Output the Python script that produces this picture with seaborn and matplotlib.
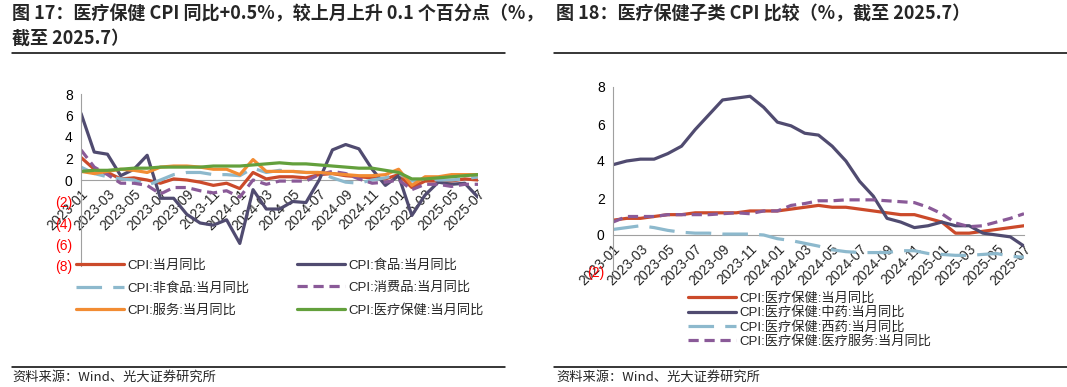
import numpy as np
import pandas as pd
import matplotlib
matplotlib.use("Agg")
import matplotlib.pyplot as plt
from matplotlib.lines import Line2D
import seaborn as sns

months = list(pd.period_range("2023-01", "2025-07", freq="M").strftime("%Y-%m"))

# 图17 数据
cpi = [2.1, 1.0, 0.7, 0.1, 0.2, 0.0, -0.3, 0.1, 0.0, -0.2, -0.5, -0.3,
       -0.8, 0.7, 0.1, 0.3, 0.3, 0.2, 0.5, 0.6, 0.4, 0.3, 0.2, 0.1,
       0.5, -0.7, -0.1, -0.1, -0.1, 0.1, 0.0]
cpi_food = [6.2, 2.6, 2.4, 0.4, 1.0, 2.3, -1.7, -1.7, -3.2, -4.0, -4.2, -3.7,
            -5.9, -0.9, -2.7, -2.7, -2.0, -2.1, 0.0, 2.8, 3.3, 2.9, 1.0, -0.5,
            0.4, -3.3, -1.4, -0.2, -0.4, -0.3, -1.6]
cpi_nonfood = [1.2, 0.6, 0.3, 0.1, 0.0, -0.5, 0.0, 0.5, 0.7, 0.7, 0.5, 0.5,
               0.4, 1.1, 0.7, 0.9, 0.8, 0.7, 0.7, 0.2, -0.2, -0.3, 0.0, 0.2,
               0.6, -0.1, 0.1, 0.0, 0.0, 0.1, 0.3]
cpi_goods = [2.8, 1.2, 0.5, -0.3, -0.3, -0.5, -1.3, -0.7, -0.7, -1.0, -1.2, -1.0,
             -1.6, 0.0, -0.4, -0.1, -0.1, -0.1, 0.5, 0.8, 0.6, 0.1, -0.3, -0.2,
             0.0, -0.9, -0.4, -0.4, -0.6, -0.4, -0.4]
cpi_service = [0.8, 0.6, 0.8, 1.0, 0.9, 0.7, 1.2, 1.3, 1.3, 1.2, 1.0, 1.0,
               0.5, 1.9, 0.8, 0.8, 0.8, 0.7, 0.7, 0.6, 0.5, 0.4, 0.4, 0.5,
               1.0, -0.5, 0.3, 0.3, 0.5, 0.5, 0.5]
cpi_medical = [0.8, 0.9, 0.9, 1.0, 1.1, 1.1, 1.2, 1.2, 1.2, 1.2, 1.3, 1.3,
               1.3, 1.4, 1.5, 1.6, 1.5, 1.5, 1.4, 1.3, 1.2, 1.1, 1.1, 0.9,
               0.7, 0.1, 0.1, 0.2, 0.3, 0.4, 0.5]

# 图18 数据
med_tcm = [3.8, 4.0, 4.1, 4.1, 4.4, 4.8, 5.7, 6.5, 7.3, 7.4, 7.5, 6.9,
           6.1, 5.9, 5.5, 5.4, 4.8, 4.0, 2.9, 2.1, 0.9, 0.7, 0.4, 0.5,
           0.7, 0.5, 0.5, 0.1, 0.0, -0.1, -0.6]
med_western = [0.3, 0.4, 0.5, 0.4, 0.25, 0.15, 0.1, 0.1, 0.05, 0.05, 0.05, 0.0,
               -0.2, -0.3, -0.45, -0.6, -0.8, -0.9, -0.95, -0.95, -0.95, -0.85, -0.85, -1.0,
               -1.05, -1.1, -1.1, -1.05, -1.0, -1.15, -1.2]
med_service = [0.7, 1.0, 1.0, 1.0, 1.1, 1.1, 1.1, 1.1, 1.15, 1.2, 1.15, 1.3,
               1.3, 1.6, 1.7, 1.85, 1.85, 1.9, 1.9, 1.9, 1.85, 1.8, 1.75, 1.5,
               1.15, 0.65, 0.45, 0.5, 0.7, 0.9, 1.15]

left_labels = ["CPI:当月同比", "CPI:食品:当月同比", "CPI:非食品:当月同比",
               "CPI:消费品:当月同比", "CPI:服务:当月同比", "CPI:医疗保健:当月同比"]
right_labels = ["CPI:医疗保健:当月同比", "CPI:医疗保健:中药:当月同比",
                "CPI:医疗保健:西药:当月同比", "CPI:医疗保健:医疗服务:当月同比"]
left_yticks = [-8, -6, -4, -2, 0, 2, 4, 6, 8]
left_yticklabels = ["(8)", "(6)", "(4)", "(2)", "0", "2", "4", "6", "8"]
right_yticks = [-2, 0, 2, 4, 6, 8]
right_yticklabels = ["(2)", "0", "2", "4", "6", "8"]

RED = "#CB4A2A"
DARK = "#504B70"
BLUE = "#8DB9CD"
PURPLE = "#8A5A98"
ORANGE = "#F28C33"
GREEN = "#63A03C"

sns.set_style("white")
plt.rcParams["font.family"] = ["Liberation Sans", "Noto Sans CJK SC"]

W, H = 1067, 387
fig = plt.figure(figsize=(W / 100, H / 100), dpi=100)


def px_axes(x0, x1, ytop, ybot):
    return fig.add_axes([x0 / W, 1 - ybot / H, (x1 - x0) / W, (ybot - ytop) / H])


x = np.arange(len(months))
LW = 2.3


def style_axes(ax, yticks, yticklabels, ylim):
    ax.set_xlim(0, len(months) - 1)
    ax.set_ylim(*ylim)
    for s in ["top", "right"]:
        ax.spines[s].set_visible(False)
    ax.spines["bottom"].set_position(("data", 0))
    ax.spines["bottom"].set_color("#A0A0A0")
    ax.spines["left"].set_color("#A0A0A0")
    ax.spines["bottom"].set_zorder(0)
    ax.set_xticks(x[::2])
    ax.set_xticklabels(months[::2], rotation=45, ha="right", va="top",
                       rotation_mode="anchor", fontsize=10)
    ax.set_yticks(yticks)
    ax.set_yticklabels(yticklabels, fontsize=10)
    for t, v in zip(ax.get_yticklabels(), yticks):
        t.set_color("red" if v < 0 else "black")
    ax.tick_params(axis="x", direction="out", length=3, color="#A0A0A0", pad=2)
    ax.tick_params(axis="y", direction="in", length=3, color="#A0A0A0", pad=6)
    ax.set_xlabel("")
    ax.set_ylabel("")


# ---- 左图 ----
ax1 = px_axes(81, 478, 94, 266)
left_series = [cpi, cpi_food, cpi_nonfood, cpi_goods, cpi_service, cpi_medical]
left_colors = [RED, DARK, BLUE, PURPLE, ORANGE, GREEN]
left_ls = ["-", "-", (0, (8, 3.5)), (0, (3.2, 1.8)), "-", "-"]
for vals, c, ls, lbl in zip(left_series, left_colors, left_ls, left_labels):
    sns.lineplot(x=x, y=vals, ax=ax1, color=c, linewidth=LW, linestyle=ls, label=lbl)
style_axes(ax1, left_yticks, left_yticklabels, (-8, 8))
h, l = ax1.get_legend_handles_labels()
order = [0, 2, 4, 1, 3, 5]
ax1.legend([h[i] for i in order], [l[i] for i in order], ncol=2, frameon=False,
           loc="upper left", bbox_to_anchor=(76 / W, 1 - 259 / H),
           bbox_transform=fig.transFigure, fontsize=9.5, handlelength=3.6,
           handletextpad=0.3, columnspacing=3.6, labelspacing=0.75,
           borderpad=0, borderaxespad=0)

# ---- 右图 ----
ax2 = px_axes(613, 1024, 87, 272)
right_series = [cpi_medical, med_tcm, med_western, med_service]
right_colors = [RED, DARK, BLUE, PURPLE]
right_ls = ["-", "-", (0, (8, 3.5)), (0, (3.2, 1.8))]
for vals, c, ls, lbl in zip(right_series, right_colors, right_ls, right_labels):
    sns.lineplot(x=x, y=vals, ax=ax2, color=c, linewidth=LW, linestyle=ls, label=lbl)
style_axes(ax2, right_yticks, right_yticklabels, (-2, 8))
ax2.legend(frameon=False, loc="upper left", bbox_to_anchor=(688 / W, 1 - 292 / H),
           bbox_transform=fig.transFigure, fontsize=9.5, handlelength=3.6,
           handletextpad=0.3, labelspacing=0.12, borderpad=0, borderaxespad=0)

# ---- 标题、分隔线、来源 ----
tfont = ["Noto Sans CJK SC"]
fig.text(12 / W, 1 - 14 / H, "图 17：医疗保健 CPI 同比+0.5%，较上月上升 0.1 个百分点（%，",
         fontsize=13, fontweight="bold", family=tfont, va="center", ha="left")
fig.text(12 / W, 1 - 38 / H, "截至 2025.7）", fontsize=13, fontweight="bold",
         family=tfont, va="center", ha="left")
fig.text(556 / W, 1 - 14 / H, "图 18：医疗保健子类 CPI 比较（%，截至 2025.7）",
         fontsize=13, fontweight="bold", family=tfont, va="center", ha="left")

for xa, xb in [(12, 505), (554, 1067)]:
    for yy in [53, 367]:
        fig.add_artist(Line2D([xa / W, xb / W], [1 - yy / H, 1 - yy / H],
                              color="black", lw=1.1, transform=fig.transFigure))

fig.text(12 / W, 1 - 377 / H, "资料来源：Wind、光大证券研究所", fontsize=9.5,
         family=tfont, va="center", ha="left")
fig.text(556 / W, 1 - 377 / H, "资料来源：Wind、光大证券研究所", fontsize=9.5,
         family=tfont, va="center", ha="left")

fig.savefig("out.png", dpi=100)
